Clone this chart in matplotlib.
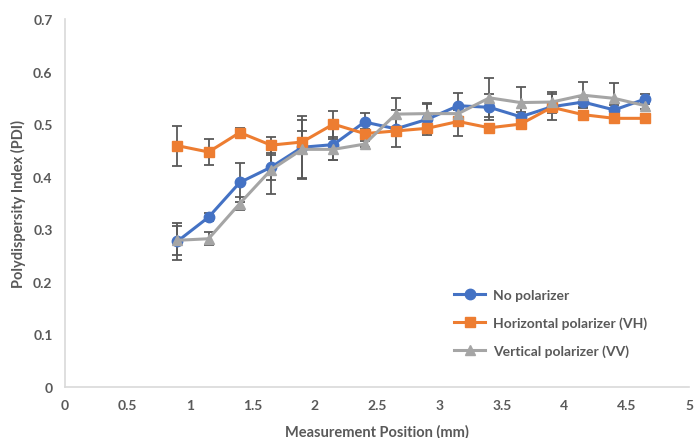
import numpy as np
import matplotlib.pyplot as plt

plt.rcParams['font.family'] = ['Lato', 'DejaVu Sans']

position = [0.9, 1.15, 1.4, 1.65, 1.9, 2.15, 2.4, 2.65, 2.9, 3.15, 3.4, 3.65, 3.9, 4.15, 4.4, 4.65]

no_pol = [0.277, 0.323, 0.389, 0.418, 0.456, 0.461, 0.504, 0.491, 0.509, 0.535, 0.532, 0.514, 0.533, 0.542, 0.527, 0.548]
no_pol_err = [0.035, 0.008, 0.037, 0.024, 0.06, 0.03, 0.018, 0.035, 0.03, 0.025, 0.025, 0.01, 0.025, 0.01, 0.01, 0.01]

vh = [0.459, 0.447, 0.484, 0.460, 0.466, 0.500, 0.482, 0.487, 0.492, 0.505, 0.493, 0.500, 0.532, 0.518, 0.511, 0.511]
vh_err = [0.038, 0.024, 0.008, 0.015, 0.02, 0.025, 0.008, 0.006, 0.008, 0.028, 0.006, 0.008, 0.006, 0.006, 0.004, 0.006]

vv = [0.279, 0.282, 0.349, 0.413, 0.452, 0.452, 0.462, 0.519, 0.520, 0.520, 0.550, 0.541, 0.542, 0.555, 0.549, 0.535]
vv_err = [0.028, 0.012, 0.012, 0.045, 0.055, 0.02, 0.006, 0.03, 0.02, 0.006, 0.037, 0.03, 0.02, 0.025, 0.03, 0.006]

blue = '#4472C4'
orange = '#ED7D31'
grey = '#A5A5A5'
txt = '#595959'

fig = plt.figure(figsize=(6.94, 4.39), dpi=100)
ax = fig.add_axes([0.0937, 0.1162, 0.8993, 0.8383])

kw = dict(lw=2.2, ecolor='#595959', elinewidth=1.3, capsize=3.5, capthick=1.3)
ax.errorbar(position, no_pol, yerr=no_pol_err, color=blue, marker='o', ms=7.5,
            label='No polarizer', **kw)
ax.errorbar(position, vh, yerr=vh_err, color=orange, marker='s', ms=6.5,
            label='Horizontal polarizer (VH)', **kw)
ax.errorbar(position, vv, yerr=vv_err, color=grey, marker='^', ms=7.5,
            label='Vertical polarizer (VV)', **kw)

ax.set_xlim(0, 5)
ax.set_ylim(0, 0.7)
ax.set_xticks(np.arange(0, 5.01, 0.5))
ax.set_xticklabels(['0', '0.5', '1', '1.5', '2', '2.5', '3', '3.5', '4', '4.5', '5'])
ax.set_yticks(np.arange(0, 0.71, 0.1))
ax.set_yticklabels(['0', '0.1', '0.2', '0.3', '0.4', '0.5', '0.6', '0.7'])
ax.tick_params(length=0, labelsize=10, labelcolor=txt, pad=9)
for lbl in ax.get_xticklabels() + ax.get_yticklabels():
    lbl.set_fontweight('bold')

for s in ['top', 'right']:
    ax.spines[s].set_visible(False)
for s in ['left', 'bottom']:
    ax.spines[s].set_color('#D9D9D9')
    ax.spines[s].set_linewidth(1.2)

ax.set_xlabel('Measurement Position (mm)', fontsize=10.5, fontweight='bold', color=txt, labelpad=9)
ax.set_ylabel('Polydispersity Index (PDI)', fontsize=10.5, fontweight='bold', color=txt, labelpad=5)

handles, labels = ax.get_legend_handles_labels()
handles = [h[0] for h in handles]
leg = ax.legend(handles, labels, loc='upper left', bbox_to_anchor=(0.604, 0.30),
                frameon=False, fontsize=10, handlelength=2.2, labelspacing=1.1,
                handletextpad=0.6)
for t in leg.get_texts():
    t.set_fontweight('bold')
    t.set_color(txt)

fig.savefig('out.png', dpi=100)
